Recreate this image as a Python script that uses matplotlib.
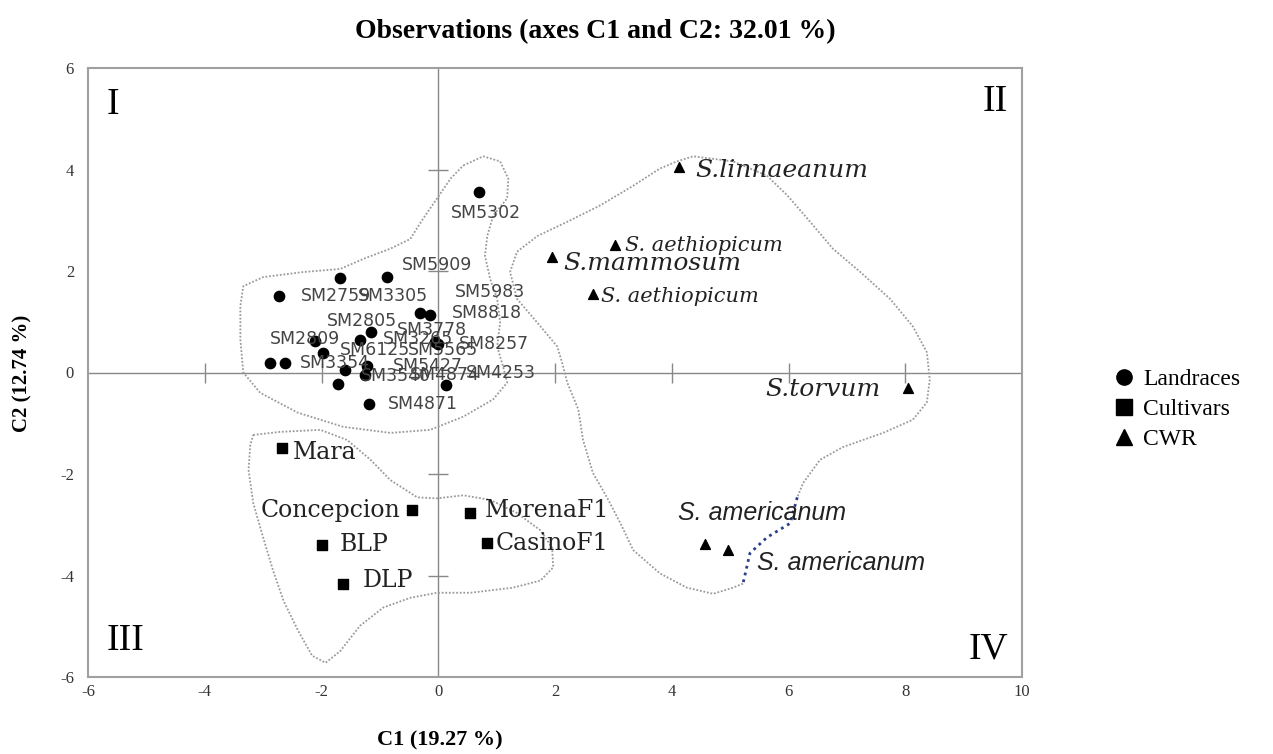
import numpy as np
import matplotlib
matplotlib.use('Agg')
import matplotlib.pyplot as plt
from matplotlib.lines import Line2D

plt.rcParams['axes.unicode_minus'] = False

# landraces (circles)
land_x = [0.69, -2.72, -1.69, -0.88, -0.31, -0.14, -1.15, -1.34, -2.11, -1.97,
          -2.89, -2.62, -1.60, -1.22, -1.25, -1.72, -0.01, -0.05, 0.14, -1.18]
land_y = [3.56, 1.51, 1.86, 1.89, 1.18, 1.13, 0.80, 0.65, 0.62, 0.39,
          0.19, 0.19, 0.05, 0.12, -0.04, -0.22, 0.57, 0.60, -0.25, -0.62]
land_lab = ['SM5302', 'SM2759', 'SM3305', 'SM5909', 'SM8818', 'SM5983', 'SM2805',
            'SM3778', 'SM2809', 'SM6125', '', 'SM3354', 'SM3540', 'SM5427',
            'SM4874', 'SM5565', 'SM8257', 'SM3265', 'SM4253', 'SM4871']

# cultivars (squares)
cult_x = [-2.67, -0.45, 0.55, -1.99, 0.84, -1.64]
cult_y = [-1.49, -2.71, -2.77, -3.39, -3.35, -4.16]
cult_lab = ['Mara', 'Concepcion', 'MorenaF1', 'BLP', 'CasinoF1', 'DLP']

# crop wild relatives (triangles)
cwr_x = [4.13, 3.03, 1.95, 2.65, 8.05, 4.57, 4.97]
cwr_y = [4.04, 2.51, 2.28, 1.54, -0.30, -3.37, -3.49]
cwr_lab = ['S.linnaeanum', 'S. aethiopicum', 'S.mammosum', 'S. aethiopicum',
           'S.torvum', 'S. americanum', 'S. americanum']

# hand drawn group outlines
hull_land = [(0.43, 4.08), (0.77, 4.26), (1.06, 4.16), (1.20, 3.82), (1.18, 3.43),
             (0.94, 3.09), (0.84, 2.69), (0.80, 2.30), (0.89, 1.84), (1.01, 1.45),
             (1.06, 0.99), (1.01, 0.51), (1.11, 0.12), (1.18, -0.20), (0.94, -0.53),
             (0.43, -0.87), (-0.14, -1.13), (-0.82, -1.19), (-1.63, -1.07),
             (-2.41, -0.79), (-3.05, -0.40), (-3.34, 0.0), (-3.39, 0.65),
             (-3.39, 1.31), (-3.34, 1.70), (-3.00, 1.88), (-2.31, 1.98),
             (-1.68, 2.04), (-1.28, 2.24), (-0.82, 2.44), (-0.48, 2.63),
             (-0.26, 3.03), (-0.02, 3.43), (0.21, 3.82), (0.43, 4.08)]
hull_cult = [(-3.17, -1.23), (-2.71, -1.17), (-2.02, -1.13), (-1.56, -1.33),
             (-1.16, -1.72), (-0.82, -2.12), (-0.36, -2.46), (-0.02, -2.48),
             (0.43, -2.42), (0.89, -2.51), (1.35, -2.77), (1.75, -3.11),
             (1.95, -3.45), (1.97, -3.84), (1.75, -4.10), (1.28, -4.24),
             (0.55, -4.34), (-0.02, -4.34), (-0.48, -4.44), (-0.94, -4.63),
             (-1.34, -4.99), (-1.68, -5.49), (-1.93, -5.72), (-2.16, -5.58),
             (-2.40, -5.09), (-2.65, -4.50), (-2.83, -3.90), (-3.00, -3.25),
             (-3.17, -2.57), (-3.25, -1.92), (-3.22, -1.43), (-3.17, -1.23)]
hull_cwr = [(5.22, -4.16), (5.05, -4.24), (4.71, -4.36), (4.26, -4.24), (3.80, -3.96),
            (3.34, -3.50), (3.12, -2.97), (2.89, -2.46), (2.65, -1.98), (2.48, -1.33),
            (2.40, -0.73), (2.21, -0.20), (2.14, 0.12), (2.04, 0.51), (1.75, 0.91),
            (1.35, 1.45), (1.23, 1.98), (1.35, 2.38), (1.70, 2.69), (2.21, 2.97),
            (2.77, 3.29), (3.34, 3.68), (3.80, 4.02), (4.09, 4.16), (4.37, 4.26),
            (5.05, 4.16), (5.63, 3.88), (5.98, 3.49), (6.37, 2.97), (6.76, 2.44),
            (7.23, 1.98), (7.74, 1.45), (8.13, 0.91), (8.37, 0.40), (8.42, -0.14),
            (8.37, -0.59), (8.13, -0.93), (7.62, -1.19), (6.93, -1.47), (6.54, -1.72),
            (6.25, -2.18), (6.15, -2.46)]
hull_blue = [(6.15, -2.46), (6.03, -2.97), (5.63, -3.25), (5.34, -3.56), (5.22, -4.16)]

# label offsets in pixels (dx, dy, ha)
land_off = [(7, -21, 'center'), (21, 0, 'left'), (18, -18, 'left'), (15, 12, 'left'),
            (32, 0, 'left'), (25, 23, 'left'), (-44, 11, 'left'), (37, 10, 'left'),
            (-45, 2, 'left'), (17, 3, 'left'), (0, 0, 'left'), (15, 0, 'left'),
            (16, -6, 'left'), (26, 0, 'left'), (45, 0, 'left'), (70, 34, 'left'),
            (21, 0, 'left'), (-52, 3, 'left'), (19, 12, 'left'), (19, 0, 'left')]
cult_off = [(10, -4, 'left'), (-12, 0, 'right'), (15, 3, 'left'), (18, 0, 'left'),
            (8, -1, 'left'), (20, 3, 'left')]
cwr_off = [(16, -3, 'left'), (10, 0, 'left'), (11, -7, 'left'), (8, -2, 'left'),
           (-28, -2, 'right'), (-27, 31, 'left'), (29, -13, 'left')]

fig = plt.figure(figsize=(12.73, 7.54), dpi=100)
ax = fig.add_axes([88/1273, 1-677/754, (1022-88)/1273, (677-68)/754])

ax.set_xlim(-6, 10)
ax.set_ylim(-6, 6)
ax.set_xticks(np.arange(-6, 11, 2))
ax.set_yticks(np.arange(-6, 7, 2))
ax.tick_params(length=0, labelsize=12, labelcolor='#333')
ax.tick_params(axis='x', pad=5)
ax.tick_params(axis='y', pad=10)
for lab in ax.get_xticklabels() + ax.get_yticklabels():
    lab.set_family('Liberation Serif')
for s in ax.spines.values():
    s.set_color('#a0a0a0')
    s.set_linewidth(1.5)

# axis lines through origin with small cross ticks
ax.axhline(0, color='#888', lw=1)
ax.axvline(0, color='#888', lw=1)
tx = [-4, -2, 2, 4, 6, 8]
ty = [-4, -2, 2, 4]
ax.plot(tx, [0]*len(tx), ls='none', marker='|', ms=14, mew=1, color='#888')
ax.plot([0]*len(ty), ty, ls='none', marker='_', ms=14, mew=1, color='#888')

dot = dict(color='#9a9a9a', ls=(0, (1, 1)), lw=1.3)
for h in [hull_land, hull_cult, hull_cwr]:
    hx, hy = zip(*h)
    ax.plot(hx, hy, **dot)
bx, by = zip(*hull_blue)
ax.plot(bx, by, color='#2a3f8a', ls=(0, (1, 1.5)), lw=2)

ax.scatter(land_x, land_y, marker='o', s=55, color='black', zorder=3)
ax.scatter(cult_x, cult_y, marker='s', s=45, color='black', zorder=3)
ax.scatter(cwr_x, cwr_y, marker='^', s=50, color='black', zorder=3)

for x, y, t, (dx, dy, ha) in zip(land_x, land_y, land_lab, land_off):
    if t:
        ax.annotate(t, (x, y), xytext=(dx, dy), textcoords='offset pixels',
                    ha=ha, va='center', fontsize=12.5, color='#444',
                    family='DejaVu Sans')
for x, y, t, (dx, dy, ha) in zip(cult_x, cult_y, cult_lab, cult_off):
    ax.annotate(t, (x, y), xytext=(dx, dy), textcoords='offset pixels',
                ha=ha, va='center', fontsize=17, color='#222',
                family='DejaVu Serif')
for x, y, t, (dx, dy, ha) in zip(cwr_x, cwr_y, cwr_lab, cwr_off):
    if 'americanum' in t:
        fam, fs = 'Liberation Sans', 18
    elif 'aethiopicum' in t:
        fam, fs = 'DejaVu Serif', 15
    else:
        fam, fs = 'DejaVu Serif', 18
    ax.annotate(t, (x, y), xytext=(dx, dy), textcoords='offset pixels',
                ha=ha, va='center', fontsize=fs, style='italic', color='#222',
                family=fam)

# quadrant numbers
ax.text(0.02, 0.94, 'I', transform=ax.transAxes, fontsize=27,
        family='Liberation Serif', va='center', ha='left')
ax.text(0.985, 0.945, 'II', transform=ax.transAxes, fontsize=27,
        family='Liberation Serif', va='center', ha='right')
ax.text(0.02, 0.06, 'III', transform=ax.transAxes, fontsize=27,
        family='Liberation Serif', va='center', ha='left')
ax.text(0.985, 0.045, 'IV', transform=ax.transAxes, fontsize=27,
        family='Liberation Serif', va='center', ha='right')

fig.text(595/1273, 1-32/754, 'Observations (axes C1 and C2: 32.01 %)',
         ha='center', va='center', fontsize=20, fontweight='bold',
         family='Liberation Serif')
fig.text(440/1273, 1-740/754, 'C1 (19.27 %)', ha='center', va='center',
         fontsize=16, fontweight='bold', family='Liberation Serif')
fig.text(22/1273, 1-373/754, 'C2 (12.74 %)', ha='center', va='center',
         rotation=90, fontsize=15, fontweight='bold', family='Liberation Serif')

handles = [Line2D([], [], ls='none', marker='o', ms=11, color='black'),
           Line2D([], [], ls='none', marker='s', ms=11, color='black'),
           Line2D([], [], ls='none', marker='^', ms=11, color='black')]
fig.legend(handles, ['Landraces', 'Cultivars', 'CWR'], loc='upper left',
           bbox_to_anchor=(1103/1273, 1-357/754), frameon=False,
           handlelength=0.8, handletextpad=0.4, labelspacing=0.35, borderpad=0,
           prop={'family': 'Liberation Serif', 'size': 17})

fig.savefig('out.png', dpi=100)
